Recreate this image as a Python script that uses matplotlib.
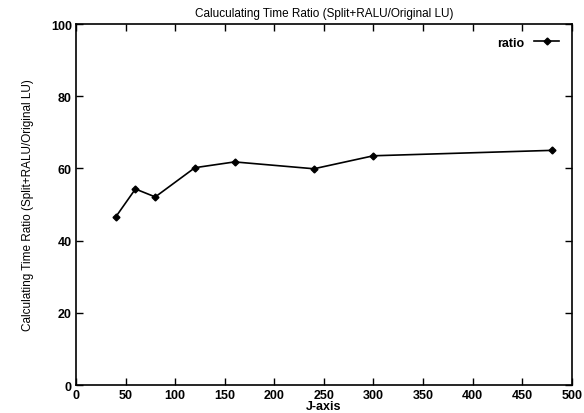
import matplotlib.pyplot as plt

plt.rcParams['font.family'] = ['Liberation Sans', 'DejaVu Sans']

# data
j_axis = [40, 60, 80, 120, 160, 240, 300, 480]
ratio = [46.5, 54.3, 52.1, 60.2, 61.8, 59.9, 63.5, 65.0]

fig = plt.figure(figsize=(5.84, 4.14), dpi=100)
ax = fig.add_axes([0.130, 0.0676, 0.849, 0.872])

ax.plot(j_axis, ratio, color='black', lw=1.2, marker='D', markersize=3.5,
        markerfacecolor='black', label='ratio')

ax.set_xlim(0, 500)
ax.set_ylim(0, 100)
ax.set_xticks(range(0, 501, 50))
ax.set_yticks(range(0, 101, 20))
ax.tick_params(direction='in', top=True, right=True, length=5, width=1,
               labelsize=9, pad=3)
for lab in ax.get_xticklabels() + ax.get_yticklabels():
    lab.set_fontweight('bold')
for s in ax.spines.values():
    s.set_linewidth(1.2)

ax.set_title('Caluculating Time Ratio (Split+RALU/Original LU)', fontsize=8.5,
             pad=6)
ax.set_xlabel('J-axis', fontsize=9, fontweight='bold', labelpad=-1)
ax.set_ylabel('Calculating Time Ratio (Split+RALU/Original LU)', fontsize=8.5,
              labelpad=12)

leg = ax.legend(loc='upper right', frameon=False, markerfirst=False,
                handlelength=2.0, fontsize=9, borderaxespad=0.6)
for t in leg.get_texts():
    t.set_fontweight('bold')

fig.savefig('out.png', dpi=100)
